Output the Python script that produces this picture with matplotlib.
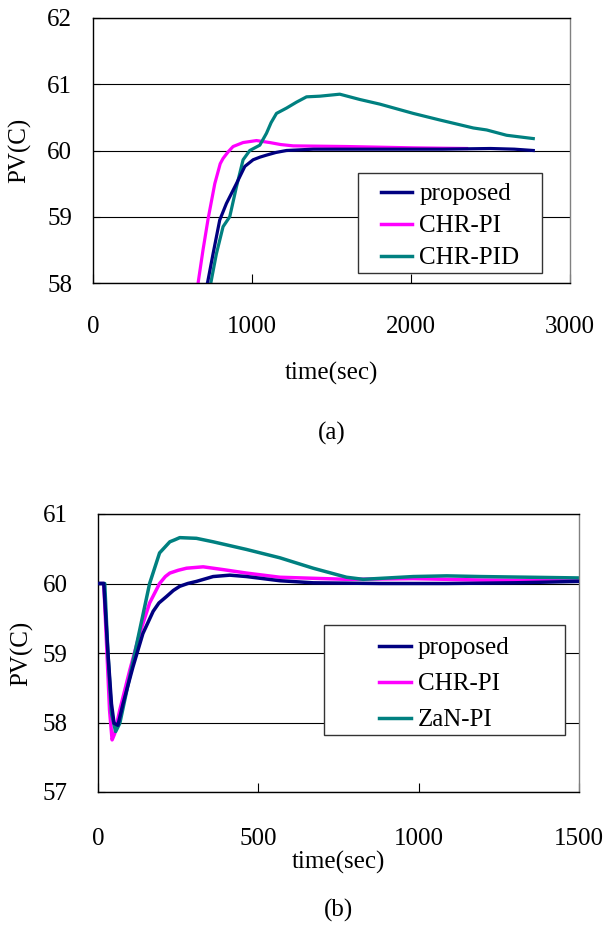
import matplotlib
matplotlib.use("Agg")
import matplotlib.pyplot as plt
from matplotlib.patches import Rectangle

plt.rcParams['font.family'] = ['Liberation Serif', 'DejaVu Serif']

# ---------------- data (a) ----------------
a_labels = ["proposed", "CHR-PI", "CHR-PID"]
a_prop_t = [700, 720, 755, 797, 839, 902, 955, 1007, 1050, 1091, 1150, 1217, 1385, 1600, 1900, 2200, 2500, 2650, 2769]
a_prop_v = [57.9, 58.0, 58.44, 58.95, 59.2, 59.5, 59.76, 59.86, 59.9, 59.93, 59.97, 60.0, 60.02, 60.02, 60.02,
            60.02, 60.03, 60.02, 60.0]
a_chrpi_t = [650, 661, 692, 724, 766, 800, 818, 850, 881, 944, 1028, 1112, 1180, 1259, 1594, 2014, 2350]
a_chrpi_v = [57.9, 58.0, 58.5, 58.97, 59.5, 59.8, 59.88, 59.98, 60.06, 60.12, 60.15, 60.12, 60.09, 60.07,
             60.06, 60.04, 60.03]
a_chrpid_t = [730, 741, 776, 818, 860, 902, 944, 986, 1049, 1091, 1120, 1154, 1217, 1280, 1343, 1427, 1552,
              1678, 1804, 2014, 2182, 2392, 2476, 2601, 2769]
a_chrpid_v = [57.9, 58.0, 58.44, 58.85, 59.0, 59.45, 59.86, 60.0, 60.08, 60.26, 60.42, 60.56, 60.64, 60.73,
              60.81, 60.82, 60.85, 60.77, 60.70, 60.56, 60.46, 60.34, 60.31, 60.23, 60.18]

# ---------------- data (b) ----------------
b_labels = ["proposed", "CHR-PI", "ZaN-PI"]
b_prop_t = [0, 18, 31, 42, 50, 62, 78, 109, 140, 172, 190, 213, 235, 255, 280, 307, 359, 411, 463, 567, 671,
            879, 1087, 1300, 1500]
b_prop_v = [60.0, 60.0, 59.0, 58.27, 57.99, 57.96, 58.27, 58.80, 59.28, 59.6, 59.72, 59.81, 59.9, 59.96, 60.0,
            60.03, 60.1, 60.12, 60.1, 60.04, 60.01, 60.0, 60.0, 60.01, 60.03]
b_chrpi_t = [0, 18, 28, 36, 44, 52, 68, 99, 130, 161, 192, 210, 224, 250, 276, 328, 390, 463, 567, 775, 983,
             1191, 1500]
b_chrpi_v = [60.0, 60.0, 59.0, 58.18, 57.75, 57.84, 58.18, 58.75, 59.28, 59.72, 60.0, 60.1, 60.15, 60.19,
             60.22, 60.24, 60.2, 60.15, 60.09, 60.06, 60.07, 60.05, 60.04]
b_zan_t = [0, 21, 31, 42, 55, 68, 99, 130, 161, 192, 210, 224, 240, 255, 307, 359, 463, 567, 671, 775, 827,
           983, 1087, 1191, 1347, 1500]
b_zan_v = [60.0, 60.0, 59.0, 58.13, 57.87, 57.99, 58.66, 59.33, 60.0, 60.44, 60.53, 60.6, 60.63, 60.66,
           60.65, 60.6, 60.49, 60.37, 60.22, 60.09, 60.06, 60.1, 60.11, 60.1, 60.09, 60.08]

colors = ["#000080", "#FF00FF", "#008080"]
FS = 18

fig = plt.figure(figsize=(6.07, 9.27), dpi=100)
W, H = 607, 927


def make_axes(l, t, r, b):
    return fig.add_axes([l / W, 1 - b / H, (r - l) / W, (b - t) / H])


def style(ax, xlim, ylim, xticks, yticks, xpad, ypad):
    ax.set_xlim(*xlim)
    ax.set_ylim(*ylim)
    ax.set_xticks(xticks)
    ax.set_yticks(yticks)
    ax.yaxis.grid(True, color='black', linewidth=0.8)
    ax.set_axisbelow(True)
    ax.tick_params(axis='x', direction='in', length=6.5, width=0.8, pad=xpad, labelsize=FS)
    ax.tick_params(axis='y', direction='in', length=5, width=0.8, pad=ypad, labelsize=FS)
    for s in ax.spines.values():
        s.set_linewidth(1.0)
        s.set_color('black')
    ax.spines['right'].set_color('#808080')


def legend_box(ax, labels, lines, rect, labelspacing, dy):
    x0, y0, x1, y1 = rect
    ax.add_patch(Rectangle((x0, y0), x1 - x0, y1 - y0, transform=ax.transAxes,
                           facecolor='white', edgecolor='#333333', linewidth=1.0, zorder=4))
    leg = ax.legend(lines, labels, loc='center', bbox_to_anchor=((x0 + x1) / 2, (y0 + y1) / 2 - dy),
                    frameon=False, fontsize=FS, handlelength=1.25, handletextpad=0.3,
                    labelspacing=labelspacing, borderpad=0.0)
    leg.set_zorder(5)
    for h in leg.get_lines():
        h.set_linewidth(2.5)


# ---------- panel (a) ----------
ax1 = make_axes(93, 18, 570, 283)
l1, = ax1.plot(a_prop_t, a_prop_v, color=colors[0], lw=2.3, zorder=3)
l2, = ax1.plot(a_chrpi_t, a_chrpi_v, color=colors[1], lw=2.3, zorder=2)
l3, = ax1.plot(a_chrpid_t, a_chrpid_v, color=colors[2], lw=2.3, zorder=2.5)
style(ax1, (0, 3000), (58, 62), [0, 1000, 2000, 3000], [58, 59, 60, 61, 62], 24, 15)
ax1.set_xlabel("time(sec)", fontsize=FS)
ax1.xaxis.label.set_va('center')
ax1.xaxis.set_label_coords(0.5, (283 - 373) / 265)
ax1.set_ylabel("PV(C)", fontsize=FS)
ax1.yaxis.label.set_va('center')
ax1.yaxis.set_label_coords((20 - 93) / 477, 0.5)
legend_box(ax1, a_labels, [l1, l2, l3],
           ((358 - 93) / 477, (283 - 273) / 265, (542 - 93) / 477, (283 - 173) / 265), 0.38, 3 / 265)
fig.text(0.5 * (93 + 570) / W + 0.0, 1 - 433 / H, "(a)", ha='center', va='center', fontsize=FS)

# ---------- panel (b) ----------
ax2 = make_axes(98, 514, 579, 792)
m1, = ax2.plot(b_prop_t, b_prop_v, color=colors[0], lw=2.5, zorder=3)
m2, = ax2.plot(b_chrpi_t, b_chrpi_v, color=colors[1], lw=2.5, zorder=2)
m3, = ax2.plot(b_zan_t, b_zan_v, color=colors[2], lw=2.5, zorder=2.5)
style(ax2, (0, 1500), (57, 61), [0, 500, 1000, 1500], [57, 58, 59, 60, 61], 26, 22)
ax2.set_xlabel("time(sec)", fontsize=FS)
ax2.xaxis.label.set_va('center')
ax2.xaxis.set_label_coords(0.5, (792 - 862) / 278)
ax2.set_ylabel("PV(C)", fontsize=FS)
ax2.yaxis.label.set_va('center')
ax2.yaxis.set_label_coords((22 - 98) / 481, 0.5)
legend_box(ax2, b_labels, [m1, m2, m3],
           ((324 - 98) / 481, (792 - 735) / 278, (565 - 98) / 481, (792 - 625) / 278), 0.54, 4 / 278)
fig.text(0.5 * (98 + 579) / W, 1 - 910 / H, "(b)", ha='center', va='center', fontsize=FS)

fig.savefig("out.png", dpi=100)
